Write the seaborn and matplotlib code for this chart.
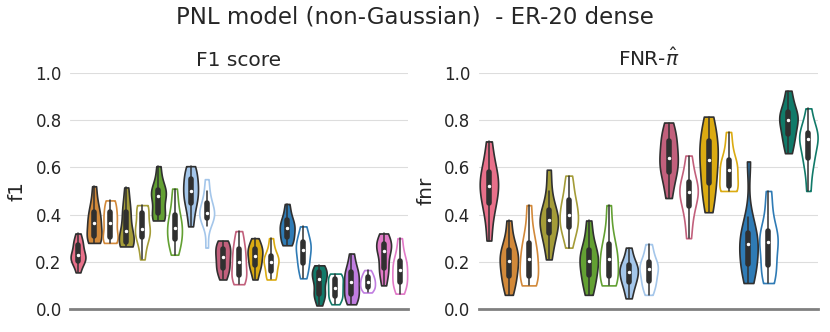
import numpy as np
import pandas as pd
import matplotlib.pyplot as plt
from matplotlib.collections import PolyCollection
import seaborn as sns

#colours of the methods (filled = first variant, outline = second variant)
pink = "#e8708a"
orange = "#d2893a"
olive = "#a49c38"
green = "#63a033"
lightblue = "#a4c6ea"
rose = "#c2607c"
gold = "#dbab12"
blue = "#2f7bb5"
teal = "#117a69"
purple = "#c07de0"
pink2 = "#e27bc8"

#F1 score samples, one list per violin
f1_samples = [
    [0.155, 0.19, 0.20, 0.21, 0.22, 0.23, 0.24, 0.26, 0.28, 0.29, 0.32],
    [0.28, 0.29, 0.30, 0.315, 0.34, 0.365, 0.38, 0.40, 0.425, 0.46, 0.52],
    [0.28, 0.285, 0.30, 0.31, 0.34, 0.365, 0.38, 0.40, 0.42, 0.45, 0.46],
    [0.265, 0.27, 0.28, 0.29, 0.31, 0.33, 0.36, 0.40, 0.42, 0.46, 0.515],
    [0.21, 0.26, 0.30, 0.31, 0.33, 0.34, 0.36, 0.39, 0.42, 0.44, 0.44],
    [0.375, 0.38, 0.40, 0.41, 0.45, 0.48, 0.49, 0.50, 0.51, 0.55, 0.605],
    [0.23, 0.26, 0.29, 0.30, 0.33, 0.345, 0.36, 0.39, 0.41, 0.46, 0.51],
    [0.35, 0.40, 0.44, 0.46, 0.48, 0.50, 0.52, 0.54, 0.56, 0.59, 0.605],
    [0.26, 0.35, 0.38, 0.39, 0.40, 0.405, 0.42, 0.44, 0.46, 0.50, 0.55],
    [0.125, 0.15, 0.17, 0.18, 0.20, 0.22, 0.23, 0.25, 0.26, 0.28, 0.29],
    [0.105, 0.12, 0.14, 0.15, 0.18, 0.20, 0.22, 0.25, 0.26, 0.30, 0.33],
    [0.125, 0.16, 0.18, 0.19, 0.21, 0.225, 0.24, 0.25, 0.26, 0.28, 0.30],
    [0.125, 0.13, 0.15, 0.17, 0.19, 0.20, 0.21, 0.22, 0.23, 0.26, 0.30],
    [0.27, 0.28, 0.30, 0.31, 0.33, 0.345, 0.35, 0.37, 0.38, 0.41, 0.445],
    [0.13, 0.16, 0.19, 0.20, 0.23, 0.25, 0.26, 0.28, 0.29, 0.32, 0.35],
    [0.015, 0.05, 0.06, 0.07, 0.10, 0.125, 0.13, 0.15, 0.16, 0.17, 0.185],
    [0.02, 0.04, 0.05, 0.06, 0.08, 0.09, 0.10, 0.12, 0.13, 0.14, 0.15],
    [0.02, 0.04, 0.06, 0.07, 0.09, 0.115, 0.13, 0.15, 0.16, 0.19, 0.235],
    [0.07, 0.08, 0.09, 0.095, 0.105, 0.115, 0.12, 0.13, 0.14, 0.15, 0.165],
    [0.10, 0.14, 0.17, 0.18, 0.22, 0.245, 0.26, 0.27, 0.28, 0.30, 0.32],
    [0.065, 0.09, 0.11, 0.12, 0.14, 0.165, 0.18, 0.20, 0.21, 0.25, 0.30],
]
f1_colors = [pink, orange, orange, olive, olive, green, green, lightblue, lightblue,
             rose, rose, gold, gold, blue, blue, teal, teal, purple, purple, pink2, pink2]
f1_filled = [True] + [True, False] * 10

#FNR samples
fnr_samples = [
    [0.29, 0.38, 0.44, 0.46, 0.50, 0.52, 0.54, 0.57, 0.59, 0.64, 0.71],
    [0.06, 0.10, 0.13, 0.15, 0.18, 0.205, 0.22, 0.24, 0.26, 0.30, 0.375],
    [0.10, 0.11, 0.13, 0.15, 0.19, 0.21, 0.23, 0.27, 0.29, 0.35, 0.44],
    [0.21, 0.27, 0.31, 0.33, 0.36, 0.375, 0.39, 0.41, 0.43, 0.50, 0.59],
    [0.26, 0.31, 0.34, 0.355, 0.38, 0.40, 0.42, 0.45, 0.47, 0.52, 0.565],
    [0.06, 0.10, 0.13, 0.155, 0.18, 0.205, 0.22, 0.24, 0.26, 0.31, 0.375],
    [0.10, 0.11, 0.13, 0.15, 0.19, 0.21, 0.23, 0.26, 0.29, 0.35, 0.44],
    [0.045, 0.08, 0.11, 0.12, 0.14, 0.155, 0.17, 0.18, 0.19, 0.22, 0.26],
    [0.06, 0.09, 0.11, 0.125, 0.15, 0.17, 0.18, 0.19, 0.205, 0.24, 0.275],
    [0.47, 0.53, 0.57, 0.59, 0.62, 0.64, 0.66, 0.70, 0.72, 0.75, 0.79],
    [0.30, 0.37, 0.42, 0.45, 0.48, 0.495, 0.51, 0.53, 0.55, 0.60, 0.65],
    [0.41, 0.47, 0.52, 0.55, 0.60, 0.63, 0.66, 0.70, 0.72, 0.77, 0.815],
    [0.50, 0.50, 0.51, 0.53, 0.56, 0.59, 0.60, 0.62, 0.64, 0.69, 0.75],
    [0.11, 0.15, 0.18, 0.20, 0.24, 0.275, 0.29, 0.31, 0.33, 0.39, 0.625],
    [0.11, 0.14, 0.17, 0.20, 0.25, 0.285, 0.30, 0.32, 0.34, 0.42, 0.50],
    [0.66, 0.70, 0.73, 0.75, 0.78, 0.80, 0.81, 0.83, 0.84, 0.88, 0.925],
    [0.50, 0.58, 0.63, 0.65, 0.69, 0.72, 0.73, 0.74, 0.75, 0.79, 0.85],
]
fnr_colors = [pink, orange, orange, olive, olive, green, green, lightblue, lightblue,
              rose, rose, gold, gold, blue, blue, teal, teal]
fnr_filled = [True] + [True, False] * 8

yticks = [0.0, 0.2, 0.4, 0.6, 0.8, 1.0]

sns.set_style("whitegrid", {"grid.color": "#dddddd"})
plt.rcParams['font.family'] = ['DejaVu Sans']


def draw_panel(ax, samples, colors, filled, ylabel, title):
    #long format table for seaborn
    names = ["m%02d" % i for i in range(len(samples))]
    rows = []
    for name, vals in zip(names, samples):
        for v in vals:
            rows.append((name, v))
    df = pd.DataFrame(rows, columns=["method", "value"])
    sns.violinplot(data=df, x="method", y="value", hue="method", order=names,
                   hue_order=names, palette=dict(zip(names, colors)), legend=False,
                   cut=0, inner="box", density_norm="width", width=0.92,
                   bw_adjust=0.8, saturation=1, linewidth=1.2, linecolor="#303030",
                   inner_kws=dict(box_width=4, whis_width=1.1, marker=".", color="#303030"),
                   ax=ax)
    #outline-only variants: white face, coloured edge
    for coll in ax.collections:
        if isinstance(coll, PolyCollection):
            verts = coll.get_paths()[0].vertices
            idx = int(round(verts[:, 0].mean()))
            if 0 <= idx < len(filled) and not filled[idx]:
                coll.set_facecolor("white")
                coll.set_edgecolor(colors[idx])
    ax.set_ylim(0, 1.0)
    ax.set_xlim(-0.5, len(samples) - 0.5)
    ax.set_yticks(yticks)
    ax.set_yticklabels(["%.1f" % t for t in yticks], fontsize=12)
    ax.set_xticks([])
    ax.set_xlabel("")
    ax.set_ylabel(ylabel, fontsize=14.5, labelpad=6)
    ax.set_title(title, fontsize=14.5, pad=5)
    ax.grid(axis="x", visible=False)
    sns.despine(ax=ax, left=True)
    ax.spines["bottom"].set_color("#808080")
    ax.spines["bottom"].set_linewidth(2)
    ax.tick_params(axis="y", length=0, pad=6, colors="#262626")


fig = plt.figure(figsize=(8.3, 3.32), dpi=100)
ax1 = fig.add_axes([0.0843, 0.0693, 0.407, 0.711])
ax2 = fig.add_axes([0.577, 0.0693, 0.409, 0.711])
draw_panel(ax1, f1_samples, f1_colors, f1_filled, "f1", "F1 score")
draw_panel(ax2, fnr_samples, fnr_colors, fnr_filled, "fnr", r"FNR-$\hat{\pi}$")
fig.suptitle("PNL model (non-Gaussian)  - ER-20 dense", fontsize=16.5, y=0.95, va="center")
fig.savefig("out.png", dpi=100)
